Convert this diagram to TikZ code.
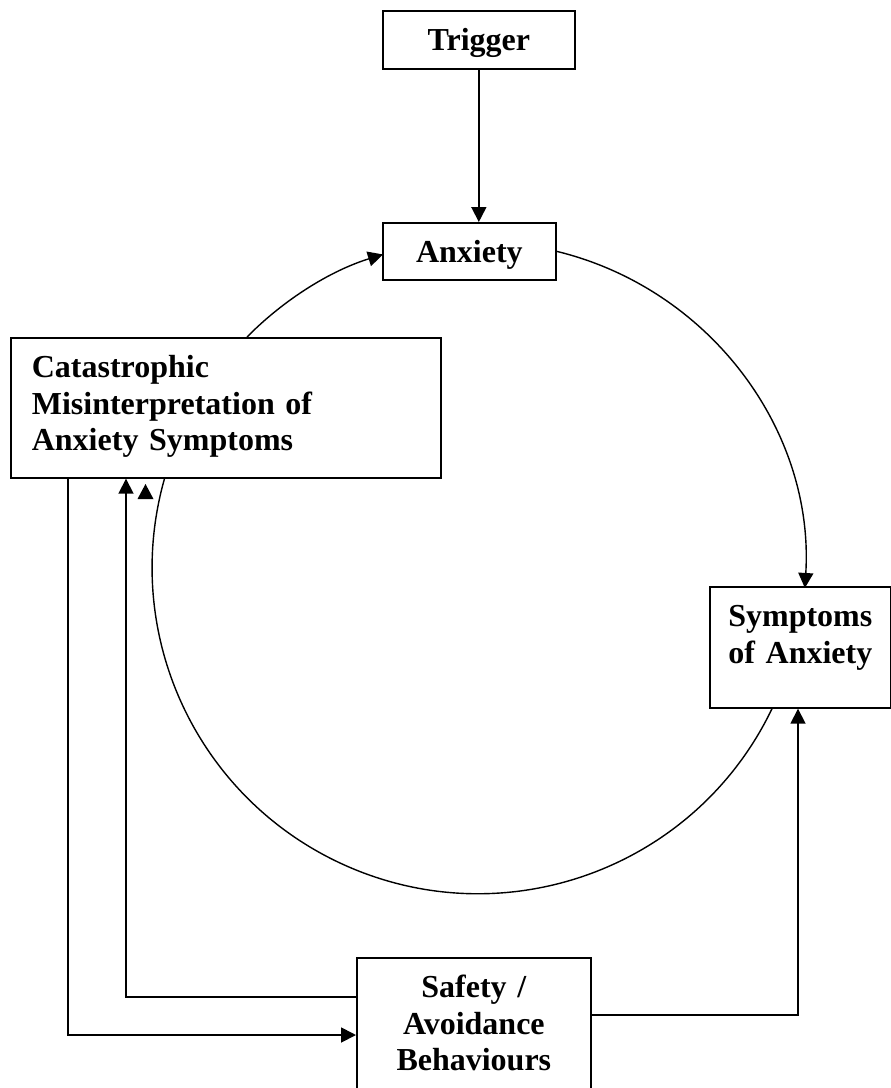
\documentclass[tikz,border=0pt]{standalone}
\usepackage{fontspec}
\setmainfont{Liberation Serif}
\usetikzlibrary{arrows.meta,calc}
\begin{document}
\begin{tikzpicture}[x=1pt,y=1pt,
  box/.style={draw, line width=1.7pt, fill=white, inner ysep=0pt, text height=40pt,
    font=\bfseries\fontsize{32}{36.5}\selectfont, anchor=north west},
  conn/.style={line width=1.8pt},
  arcline/.style={line width=1.4pt},
  tip/.style={-{Triangle[length=15pt,width=15pt]}}
]
\useasboundingbox (0,0) rectangle (891,-1088);
\clip (0,0) rectangle (891,-1088);

\node[box, text width=192pt, inner xsep=0pt, align=center, text depth=18pt] (trig) at (382,-10) {Trigger};
\node[box, text width=173pt, inner xsep=0pt, align=center, text depth=17pt] (anx) at (382,-222) {Anxiety};
\node[box, text width=388pt, inner xsep=21pt, align=left, text depth=100pt] (cat) at (10,-337) {Catastrophic\\Misinterpretation of\\Anxiety Symptoms};
\node[box, text width=181pt, inner xsep=0pt, align=center, text depth=81pt] (sym) at (709,-586) {Symptoms\\of Anxiety};
\node[box, text width=234pt, inner xsep=0pt, align=center, text depth=150pt] (saf) at (356,-957) {Safety /\\Avoidance\\Behaviours};

% trigger to anxiety
\draw[conn,tip] (trig.south) -- (trig.south |- anx.north);
% anxiety to symptoms (arc)
\draw[arcline,tip] (anx.east) arc[start angle=76.3, end angle=-3.5, radius=326];
% symptoms to catastrophic (arc)
\draw[arcline] ([xshift=63pt]sym.south west) arc[start angle=-25.63, end angle=-195.84, radius=326];
\fill (137.5,-499) -- (145.5,-484) -- (153.5,-499) -- cycle;
% catastrophic to anxiety (arc)
\draw[arcline,tip] ([xshift=237pt]cat.north west) arc[start angle=135.38, end angle=107.13, radius=326];
% catastrophic to safety
\draw[conn,tip] ([xshift=58pt]cat.south west) |- ([yshift=-78pt]saf.north west);
% safety to catastrophic
\draw[conn,tip] ([yshift=-40pt]saf.north west) -| ([xshift=116pt]cat.south west);
% safety to symptoms
\draw[conn,tip] ([yshift=-58pt]saf.north east) -| ([xshift=89pt]sym.south west);
\end{tikzpicture}
\end{document}
